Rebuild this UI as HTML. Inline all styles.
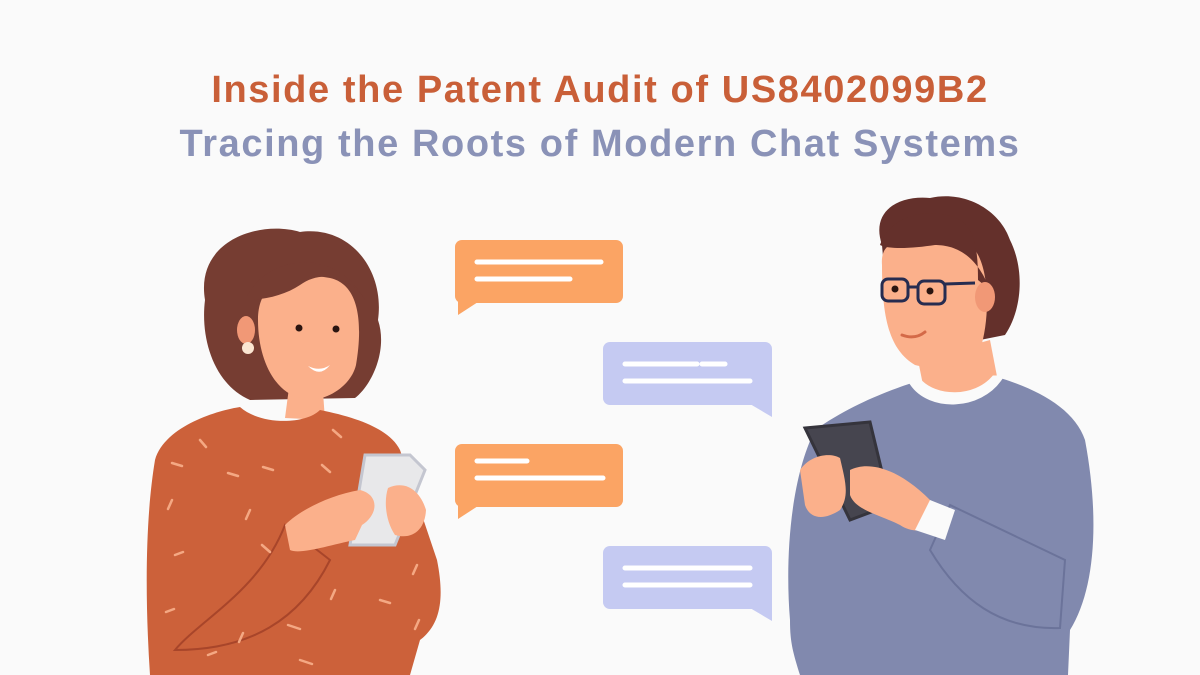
<!DOCTYPE html>
<html><head><meta charset="utf-8"><style>
html,body{margin:0;padding:0;background:#fafafa;}
body{width:1200px;height:675px;overflow:hidden;position:relative;font-family:"Liberation Sans",sans-serif;}
.t{position:absolute;left:0;width:1200px;text-align:center;font-weight:bold;font-size:38px;letter-spacing:1.6px;}
</style></head><body>
<div class="t" style="top:69px;color:#c95f38;">Inside the Patent Audit of US8402099B2</div>
<div class="t" style="top:123px;color:#8a92b7;">Tracing the Roots of Modern Chat Systems</div>
<svg width="1200" height="675" style="position:absolute;left:0;top:0" xmlns="http://www.w3.org/2000/svg">
<g fill="#fba464">
<rect x="455" y="240" width="168" height="63" rx="7"/><path d="M458 296 L458 315 L478 302Z"/>
<rect x="455" y="444" width="168" height="63" rx="7"/><path d="M458 500 L458 519 L478 506Z"/>
</g>
<g fill="#c5caf2">
<rect x="603" y="342" width="169" height="63" rx="7"/><path d="M772 398 L772 417 L750 404Z"/>
<rect x="603" y="546" width="169" height="63" rx="7"/><path d="M772 602 L772 621 L750 608Z"/>
</g>
<g stroke="#fff" stroke-width="5" stroke-linecap="round">
<path d="M477 262H601M477 279H570M477 461H527M477 478H603M625 364H697M702 364H725M625 381H750M625 568H750M625 585H750"/>
</g>
<!-- woman -->
<path d="M205 300 C195 240 260 220 300 232 C350 225 385 270 378 320 C388 350 372 385 355 398 L250 400 C215 385 200 340 205 300Z" fill="#763d32"/>
<path d="M290 380 L285 418 L325 420 L322 378Z" fill="#fbb08b"/>
<path d="M258 320 C258 280 290 270 330 278 C362 285 362 330 356 365 C350 390 318 405 300 398 C275 392 258 360 258 320Z" fill="#fbb08b"/>
<path d="M245 300 C265 255 335 245 365 300 C350 275 320 270 300 285 C285 295 265 300 245 300Z" fill="#763d32"/>
<ellipse cx="246" cy="330" rx="9" ry="14" fill="#f19876"/>
<circle cx="248" cy="348" r="6" fill="#fbe6d2"/>
<circle cx="299" cy="328" r="3.5" fill="#2a1410"/><circle cx="336" cy="329" r="3.5" fill="#2a1410"/>
<path d="M308 366 Q320 372 330 365 Q320 378 308 366Z" fill="#fff"/>
<path d="M155 460 C165 425 220 410 240 407 C260 425 305 425 320 410 C360 418 390 430 400 450 L437 560 C445 600 440 625 420 640 L410 675 L150 675 C145 600 145 520 155 460Z" fill="#cc613a"/>
<path d="M175 650 C200 620 260 590 285 525 L330 560 C300 620 250 650 175 650Z" fill="#cc613a" stroke="#a8452a" stroke-width="2"/>
<path d="M365 455 L410 455 L425 470 L395 545 L350 545Z" fill="#e8e8ea" stroke="#c4c6d0" stroke-width="3"/>
<path d="M285 525 C300 510 330 495 360 490 C380 495 378 515 362 525 L355 540 C330 545 300 555 290 550Z" fill="#fbb08b"/>
<path d="M388 488 C405 480 420 490 426 510 C425 530 412 540 395 535 C385 520 384 500 388 488Z" fill="#fbb08b"/>
<g stroke="#f4a883" stroke-width="2.5" stroke-linecap="round">
<path d="M200 440l6 7M172 463l10 3M228 473l10 3M263 467l10 3M322 465l8 7M333 430l8 7M172 500l-4 9M250 510l-4 9M175 555l8-3M166 612l8-3M208 655l8-3M243 633l-4 9M288 625l12 4M300 660l12 4M335 590l-4 9M380 600l10 3M417 565l-4 9M419 620l-4 9M262 545l8 7"/>
</g>
<!-- man -->
<path d="M882 245 C870 210 900 195 930 198 C965 190 1000 210 1010 240 C1025 270 1022 310 1005 335 L980 340 L885 280Z" fill="#64302b"/>
<path d="M918 360 L925 395 L1000 392 L990 340Z" fill="#fbb08b"/>
<path d="M882 265 C880 240 900 238 935 240 L975 250 C990 270 990 320 980 350 C965 370 935 370 915 365 C890 350 882 320 882 265Z" fill="#fbb08b"/>
<path d="M880 245 C890 215 930 205 960 220 C975 230 978 250 978 280 L990 290 C975 250 950 245 935 245 C915 248 890 250 880 245Z" fill="#64302b"/>
<ellipse cx="985" cy="297" rx="10" ry="15" fill="#f19876"/>
<g fill="none" stroke="#262c50" stroke-width="3"><rect x="882" y="279" width="26" height="22" rx="6"/><rect x="918" y="281" width="27" height="23" rx="6"/><path d="M908 287H918M945 284L975 283"/></g>
<circle cx="895" cy="289" r="3.5" fill="#2a1410"/><circle cx="930" cy="291" r="3.5" fill="#2a1410"/>
<path d="M902 335 Q915 340 925 332" stroke="#d46a48" stroke-width="3" fill="none" stroke-linecap="round"/>
<path d="M790 620 C785 560 790 480 815 430 C850 405 890 390 912 383 C930 405 980 405 1000 378 C1040 390 1075 410 1085 440 C1100 520 1095 590 1070 630 L1068 675 L800 675 C792 650 790 640 790 620Z" fill="#8189ae"/>
<path d="M912 383 C930 410 980 408 1000 378 L994 378 C975 400 935 400 918 380Z" fill="#fafafa" stroke="#fafafa" stroke-width="5"/>
<path d="M930 550 C960 600 1000 630 1060 628 L1065 560 L950 505Z" fill="#8189ae" stroke="#6b739a" stroke-width="2"/>
<path d="M805 428 L870 422 L890 505 L850 520 Z" fill="#46454f" stroke="#35343c" stroke-width="3"/>
<path d="M800 470 C810 455 830 452 840 458 C845 480 850 495 840 510 C825 520 810 520 805 505Z" fill="#fbb08b"/>
<path d="M850 470 C870 460 900 470 930 500 L945 520 C930 530 915 535 900 525 C880 515 855 510 850 495Z" fill="#fbb08b"/>
<path d="M930 500 L955 510 L945 540 L915 530Z" fill="#fafafa"/>
</svg>
</body></html>
